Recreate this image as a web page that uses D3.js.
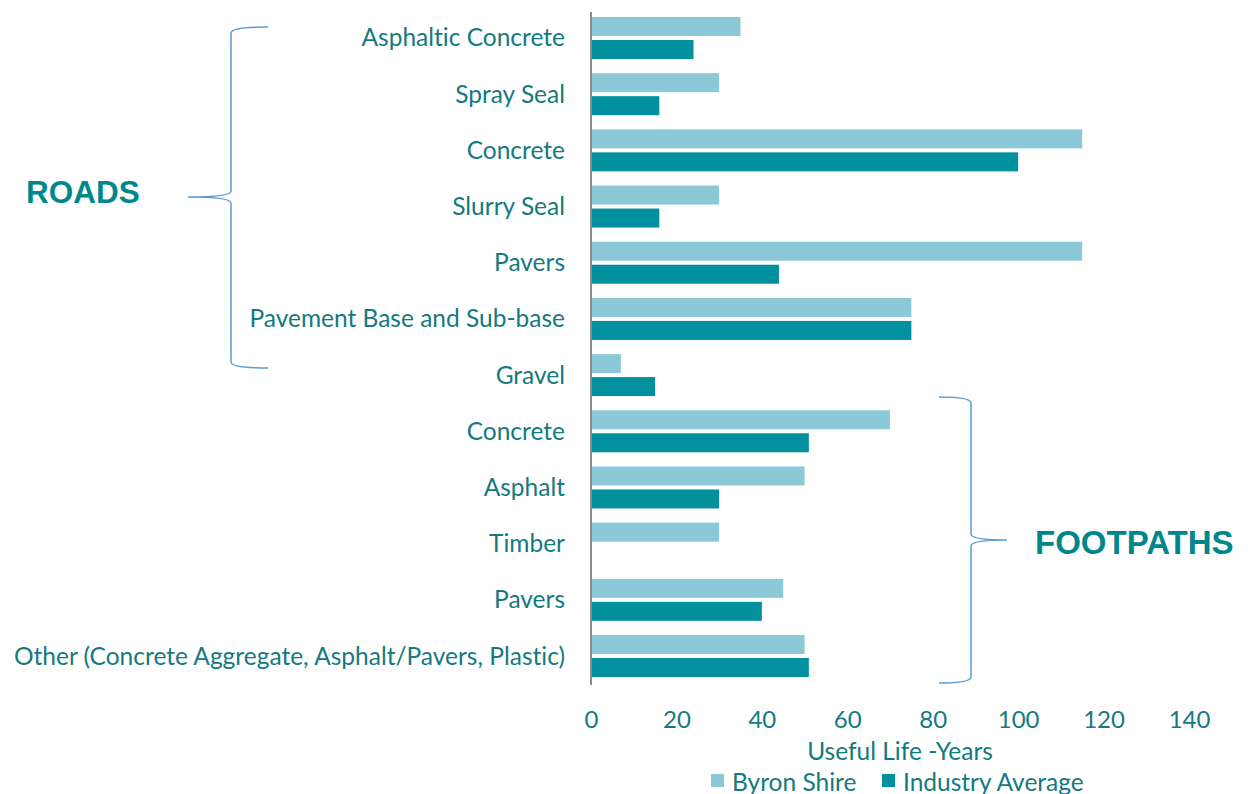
<!DOCTYPE html>
<html>
<head>
<meta charset="utf-8">
<script src="https://cdn.jsdelivr.net/npm/d3@7"></script>
<style>
  body { margin: 0; background: #fff; }
  svg text { font-family: Lato, "Open Sans", sans-serif; font-variant-ligatures: none; }
</style>
</head>
<body>
<svg id="chart" width="1248" height="794"></svg>
<script>
// categories top to bottom
var categories = ["Asphaltic Concrete", "Spray Seal", "Concrete", "Slurry Seal", "Pavers",
    "Pavement Base and Sub-base", "Gravel", "Concrete", "Asphalt", "Timber", "Pavers",
    "Other (Concrete Aggregate, Asphalt/Pavers, Plastic)"];
var byronShire = [35, 30, 115, 30, 115, 75, 7, 70, 50, 30, 45, 50];
var industryAvg = [24, 16, 100, 16, 44, 75, 15, 51, 30, null, 40, 51];
var seriesNames = ["Byron Shire", "Industry Average"];
var xTicks = [0, 20, 40, 60, 80, 100, 120, 140];

var colors = ["#8BC9D9", "#00909E"];
var textColor = "#137A7F";

var svg = d3.select("#chart");

var x = d3.scaleLinear().domain([0, 140]).range([591, 1189]);
var y = d3.scaleBand()
    .domain(d3.range(categories.length))
    .range([9.9, 684.1])
    .paddingInner(0.2524)
    .paddingOuter(0.1262);
var sub = d3.scaleBand().domain([0, 1]).range([0, y.bandwidth()]).paddingInner(0.174);

// bars
var rows = svg.append("g").selectAll("g")
    .data(categories)
    .enter()
    .append("g")
    .attr("transform", function (d, i) { return "translate(0," + y(i) + ")"; });

rows.selectAll("rect")
    .data(function (d, i) { return [byronShire[i], industryAvg[i]]; })
    .enter()
    .filter(function (d) { return d != null; })
    .append("rect")
    .attr("x", x(0))
    .attr("y", function (d, j) { return sub(j); })
    .attr("width", function (d) { return x(d) - x(0); })
    .attr("height", sub.bandwidth())
    .attr("fill", function (d, j) { return colors[j]; });

// category labels
rows.append("text")
    .attr("x", x(0) - 26)
    .attr("y", y.bandwidth() / 2 - 1)
    .attr("text-anchor", "end")
    .attr("dominant-baseline", "central")
    .style("font-size", "24.5px")
    .style("fill", textColor)
    .text(function (d) { return d; });

// vertical axis line
svg.append("line")
    .attr("x1", x(0)).attr("x2", x(0))
    .attr("y1", 12).attr("y2", 685)
    .attr("stroke", "#8a8a8a")
    .attr("stroke-width", 2);

// x axis ticks
var xAxis = svg.append("g")
    .attr("transform", "translate(0,718)")
    .call(d3.axisBottom(x).tickValues(xTicks).tickSize(0).tickPadding(0));
xAxis.select(".domain").remove();
xAxis.selectAll("text")
    .attr("dy", null)
    .attr("dominant-baseline", "central")
    .style("font-family", "Lato, sans-serif")
    .style("font-size", "24px")
    .style("fill", textColor);

// axis title
svg.append("text")
    .attr("x", 900)
    .attr("y", 750)
    .attr("text-anchor", "middle")
    .attr("dominant-baseline", "central")
    .style("font-size", "24.5px")
    .style("fill", textColor)
    .text("Useful Life -Years");

// legend
var legendX = [711, 882];
var legend = svg.selectAll(".legend")
    .data(seriesNames)
    .enter()
    .append("g")
    .attr("class", "legend")
    .attr("transform", function (d, i) { return "translate(" + legendX[i] + ",781)"; });
legend.append("rect")
    .attr("x", 0).attr("y", -7)
    .attr("width", 13).attr("height", 13)
    .attr("fill", function (d, i) { return colors[i]; });
legend.append("text")
    .attr("x", 21)
    .attr("y", 0)
    .attr("dominant-baseline", "central")
    .style("font-size", "24.5px")
    .style("fill", textColor)
    .text(function (d) { return d; });

// group braces
var braceColor = "#5B9BD5";
function brace(tipX, midY, lineX, endX, top, bottom) {
    var p = d3.path();
    p.moveTo(endX, top);
    p.quadraticCurveTo(lineX, top, lineX, top + 6);
    p.lineTo(lineX, midY - 6);
    p.quadraticCurveTo(lineX, midY, tipX, midY);
    p.quadraticCurveTo(lineX, midY, lineX, midY + 6);
    p.lineTo(lineX, bottom - 6);
    p.quadraticCurveTo(lineX, bottom, endX, bottom);
    svg.append("path")
        .attr("d", p.toString())
        .attr("fill", "none")
        .attr("stroke", braceColor)
        .attr("stroke-width", 1.5);
}
brace(188, 197, 231, 268, 27, 368);
brace(1007, 540, 971, 939, 397, 683);

svg.append("text")
    .attr("x", 26).attr("y", 192)
    .attr("dominant-baseline", "central")
    .style("font-family", "'Liberation Sans', Arial, sans-serif")
    .style("font-weight", "bold")
    .style("font-size", "31.5px")
    .style("fill", "#00878B")
    .text("ROADS");

svg.append("text")
    .attr("x", 1035).attr("y", 542)
    .attr("dominant-baseline", "central")
    .style("font-family", "'Liberation Sans', Arial, sans-serif")
    .style("font-weight", "bold")
    .style("font-size", "33px")
    .style("fill", "#00878B")
    .text("FOOTPATHS");
</script>
</body>
</html>
